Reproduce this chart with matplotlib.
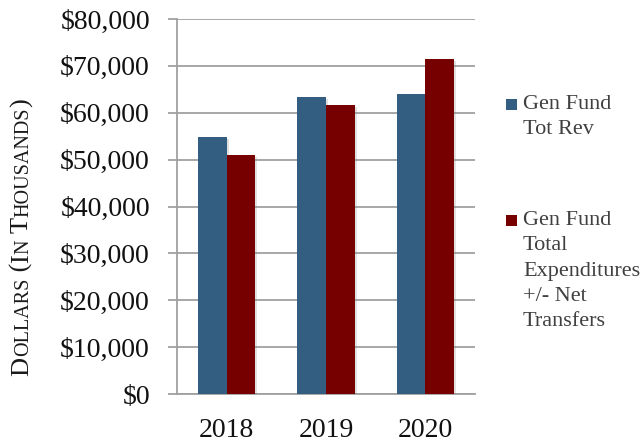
import matplotlib
matplotlib.use('Agg')
import matplotlib.pyplot as plt
import matplotlib.patheffects as pe
from matplotlib.patches import Rectangle
from matplotlib.ticker import FuncFormatter, MultipleLocator
from matplotlib.transforms import IdentityTransform
import numpy as np

years = ["2018", "2019", "2020"]
series_names = ["Gen Fund\nTot Rev",
                "Gen Fund\nTotal\nExpenditures\n+/- Net\nTransfers"]
revenue = [54800, 63400, 63900]
expenditures = [50900, 61600, 71400]
colors = ["#335E82", "#760000"]

plt.rcParams['font.family'] = ['Liberation Serif', 'DejaVu Serif']

W, H = 643, 442
fig = plt.figure(figsize=(W / 100, H / 100), dpi=100)
ax = fig.add_axes([177 / W, 48 / H, 298 / W, 375 / H])

x = np.arange(len(years))
w = 0.287
shadow = [pe.SimplePatchShadow(offset=(1.5, -1.5), shadow_rgbFace='#888888', alpha=0.25), pe.Normal()]
for i, (vals, c) in enumerate(zip([revenue, expenditures], colors)):
    bars = ax.bar(x + (i - 0.5) * w, vals, width=w, color=c, zorder=3)
    for b in bars:
        b.set_path_effects(shadow)

ax.set_xlim(-0.5, 2.5)
ax.set_ylim(0, 80000)
ax.yaxis.set_major_locator(MultipleLocator(10000))
ax.yaxis.set_major_formatter(FuncFormatter(lambda v, p: "${:,.0f}".format(v)))
ax.set_xticks(x)
ax.set_xticklabels(years)

grid_c = '#A0A0A0'
ax.grid(axis='y', color=grid_c, linewidth=1.3, zorder=0)
ax.set_axisbelow(True)
for s in ['top', 'right']:
    ax.spines[s].set_visible(False)
for s in ['left', 'bottom']:
    ax.spines[s].set_color(grid_c)
    ax.spines[s].set_linewidth(1.3)
ax.tick_params(axis='y', length=6.5, width=1.3, color=grid_c, pad=13,
               labelsize=20, labelcolor='#111111')
ax.tick_params(axis='x', length=0, pad=17, labelsize=20, labelcolor='#111111')

# legend drawn by hand so the square sits on the first text line
leg_base = [H - 109, H - 225]
pitch = 25.3
for name, c, base in zip(series_names, colors, leg_base):
    fig.patches.append(Rectangle((506, base - 1), 11, 11, transform=IdentityTransform(),
                                 facecolor=c, edgecolor='none'))
    for k, line in enumerate(name.split("\n")):
        fig.text(523, base - k * pitch, line, transform=IdentityTransform(), fontsize=16,
                 va='baseline', ha='left', color='#404040')

# small-caps axis title built from pieces
fig.canvas.draw()
renderer = fig.canvas.get_renderer()
big, small = 19, 14.5
pieces = [("D", big), ("OLLARS", small), (" (", big), ("I", big), ("N", small),
          (" ", big), ("T", big), ("HOUSANDS", small), (")", big)]
texts = []
for s, fs in pieces:
    t = fig.text(0, 0, s, fontsize=fs, rotation=90, rotation_mode='anchor',
                 ha='left', va='baseline', transform=IdentityTransform(), color='#1a1a1a')
    texts.append(t)
lengths = [t.get_window_extent(renderer).height for t in texts]
y = (H - 237) - sum(lengths) / 2
for t, L in zip(texts, lengths):
    t.set_position((28, y))
    y += L

fig.savefig('out.png', dpi=100, facecolor='white')
